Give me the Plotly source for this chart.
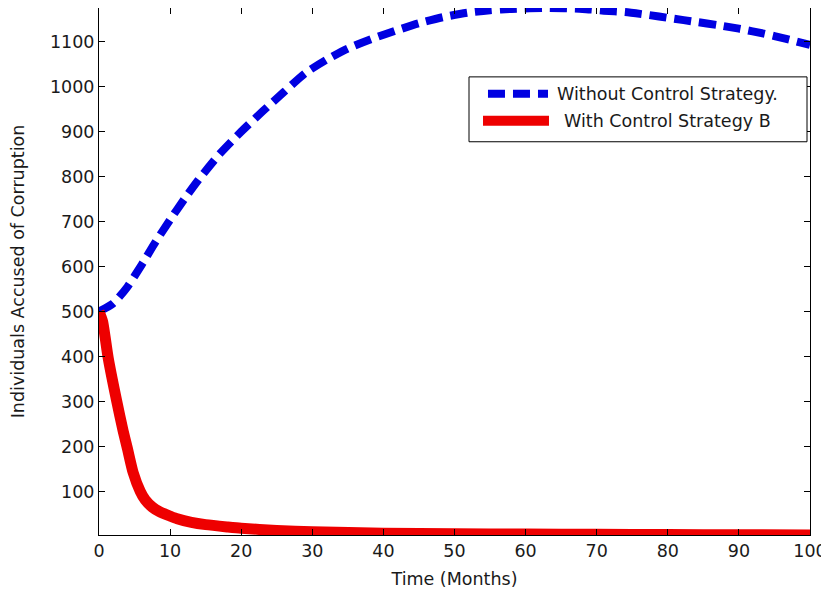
import plotly.graph_objects as go

# ---- data ----
t_without = [0, 2, 4, 6, 8, 10, 12, 14, 17, 20, 23, 26, 29, 32, 35, 38.5, 42, 45, 48.5,
             52, 55, 58, 63, 68, 71, 74, 77, 80.5, 84, 87, 90, 93.5, 96.5, 100]
v_without = [500, 518, 555, 604, 656, 704, 750, 793, 851, 900, 945, 988, 1030, 1060, 1085,
             1107, 1126, 1141, 1155, 1165, 1170, 1173, 1175, 1173, 1169, 1166, 1160, 1152,
             1144, 1137, 1129, 1118, 1107, 1093]

t_with = [0, 0.5, 1.3, 2.5, 3.4, 4, 4.8, 5.8, 6.5, 7.5, 8.5, 10, 11, 13, 15, 18, 20, 25,
          30, 40, 50, 60, 70, 80, 90, 100]
v_with = [500, 478, 396, 300, 234, 195, 142, 100, 81, 65, 55, 45, 39, 31, 26, 21, 18, 13,
          10, 7, 6, 5, 4.5, 4, 3.5, 3]

x_ticks = list(range(0, 101, 10))
y_ticks = list(range(100, 1101, 100))
legend_labels = ["Without Control Strategy.", " With Control Strategy B"]
x_title = "Time (Months)"
y_title = "Individuals Accused of Corruption"

BLUE = "rgb(0,0,225)"
RED = "rgb(238,0,0)"
FONT = "DejaVu Sans"
TXT = "#1a1a1a"

fig = go.Figure()
fig.add_trace(go.Scatter(x=t_without, y=v_without, mode="lines", name=legend_labels[0],
                         line=dict(color=BLUE, width=8, dash="17px,8px", shape="spline", smoothing=0.6)))
fig.add_trace(go.Scatter(x=t_with, y=v_with, mode="lines", name=legend_labels[1],
                         line=dict(color=RED, width=11, shape="spline", smoothing=0.6)))

# manual MATLAB-style legend (paper coordinates)
shapes = [
    dict(type="rect", xref="paper", yref="paper", x0=0.5204, x1=0.9958, y0=0.7462, y1=0.8693,
         line=dict(color="black", width=1), fillcolor="white", layer="above"),
    dict(type="line", xref="paper", yref="paper", x0=0.5471, x1=0.6315, y0=0.8371, y1=0.8371,
         line=dict(color=BLUE, width=8, dash="17px,8px"), layer="above"),
    dict(type="line", xref="paper", yref="paper", x0=0.5401, x1=0.6329, y0=0.7860, y1=0.7860,
         line=dict(color=RED, width=10), layer="above"),
]
annotations = [
    dict(xref="paper", yref="paper", x=0.6413, y=0.8371, text=legend_labels[0].strip(),
         showarrow=False, xanchor="left", yanchor="middle", font=dict(family=FONT, size=17.5, color=TXT)),
    dict(xref="paper", yref="paper", x=0.6512, y=0.7860, text=legend_labels[1].strip(),
         showarrow=False, xanchor="left", yanchor="middle", font=dict(family=FONT, size=17.5, color=TXT)),
]

axis_common = dict(showgrid=False, zeroline=False, showline=True, linecolor="black", linewidth=1,
                   mirror="ticks", ticks="inside", ticklen=6, tickcolor="black", tickwidth=1,
                   tickfont=dict(family=FONT, size=17.5, color=TXT))

# the page body adds an 8px offset, so the figure is sized to fit the window
fig.update_layout(
    width=821, height=586,
    margin=dict(l=91, r=19, t=0, b=59, autoexpand=False),
    paper_bgcolor="white", plot_bgcolor="white",
    showlegend=False,
    shapes=shapes, annotations=annotations,
    xaxis=dict(range=[0, 100], tickvals=x_ticks, ticktext=[str(v) for v in x_ticks],
               title=dict(text=x_title, font=dict(family=FONT, size=17.5, color=TXT), standoff=12),
               **axis_common),
    yaxis=dict(range=[3, 1175], tickvals=y_ticks, ticktext=[str(v) for v in y_ticks],
               title=dict(text=y_title, font=dict(family=FONT, size=17.5, color=TXT), standoff=20),
               **axis_common),
)

fig.write_html("out.html")
